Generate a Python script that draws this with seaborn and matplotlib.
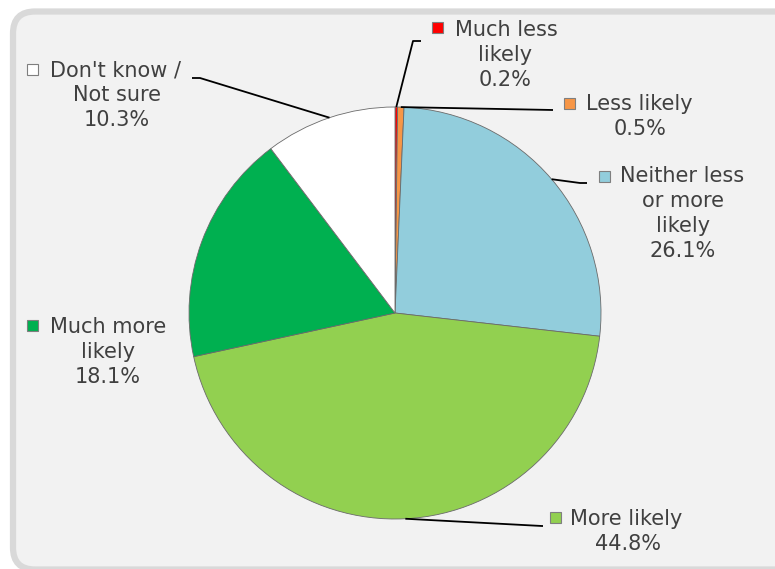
import matplotlib
matplotlib.use("Agg")
import matplotlib.pyplot as plt
from matplotlib.patches import FancyBboxPatch, Rectangle
from matplotlib.transforms import IdentityTransform
import numpy as np
import seaborn as sns

# Survey responses, clockwise from 12 o'clock
categories = ["Much less likely", "Less likely", "Neither less or more likely",
              "More likely", "Much more likely", "Don't know / Not sure"]
shares = [0.2, 0.5, 26.1, 44.8, 18.1, 10.3]
label_lines = [["Much less", "likely"],
               ["Less likely"],
               ["Neither less", "or more", "likely"],
               ["More likely"],
               ["Much more", "likely"],
               ["Don't know /", "Not sure"]]
colors = ["#ff0000", "#f79646", "#92cddc", "#92d050", "#00b050", "#ffffff"]

sns.set_theme(style="white")
plt.rcParams["font.family"] = ["DejaVu Sans"]

W, H = 775, 569
fig = plt.figure(figsize=(W / 100, H / 100), dpi=100)
ax = fig.add_axes([0, 0, 1, 1])
fig.patch.set_facecolor("white")


def Y(y):
    # flip from top-down pixel rows to axis units
    return H - y


# rounded chart-area frame in figure pixels (runs off the right and bottom edges)
frame = FancyBboxPatch((13, Y(569.5)), 792, 558,
                       boxstyle="round,pad=0,rounding_size=22",
                       facecolor="#f2f2f2", edgecolor="#d9d9d9", linewidth=4.5,
                       transform=IdentityTransform(), zorder=-5)
fig.patches.append(frame)
ax.patch.set_visible(False)

cx, cy, r = 395, 313, 206
ax.pie(shares, colors=colors, startangle=90, counterclock=False,
       center=(cx, Y(cy)), radius=r,
       wedgeprops=dict(edgecolor="#6a6a6a", linewidth=0.6), frame=True)
ax.set_xlim(0, W)
ax.set_ylim(0, H)
ax.set_aspect("equal")
ax.axis("off")

# mid angle of each wedge (degrees, standard orientation)
cum = np.cumsum([0] + shares)
mid = 90 - 360 * (cum[:-1] + np.array(shares) / 2) / 100.0


def edge_point(i):
    a = np.deg2rad(mid[i])
    return cx + r * np.cos(a), cy - r * np.sin(a)


# leader line routes (pixel rows, from the wedge edge outward)
leaders = {
    0: [(413, 41), (421, 41)],
    1: [(553, 110)],
    2: [(580, 183), (587, 183)],
    3: [(542, 526), (543, 526)],
    5: [(200, 78), (192, 78)],
}
for i, pts in leaders.items():
    x0, y0 = edge_point(i)
    xs = [x0] + [p[0] for p in pts]
    ys = [Y(y0)] + [Y(p[1]) for p in pts]
    ax.plot(xs, ys, color="black", linewidth=1.3, solid_capstyle="butt", zorder=3)

# label block layout: marker centre, first-line left x, centre x of lower lines, first-line y
layout = [
    ((437.5, 27.5), 455, 505, 30),
    ((569, 103), 586, 640, 104),
    ((604, 176), 620, 683, 176),
    ((555.5, 517), 570, 628, 519),
    ((32.5, 325.5), 50, 108, 327),
    ((32.5, 69.5), 50, 117, 70),
]
txt_color = "#404040"
fs = 15
step = 25
for i, (mk, lx, ccx, y1) in enumerate(layout):
    ax.add_patch(Rectangle((mk[0] - 5.5, Y(mk[1]) - 5.5), 11, 11,
                           facecolor=colors[i], edgecolor="#7f7f7f",
                           linewidth=0.8, zorder=4))
    lines = label_lines[i] + [f"{shares[i]:.1f}%"]
    ax.text(lx, Y(y1), lines[0], ha="left", va="center", fontsize=fs,
            color=txt_color, zorder=5)
    for k, line in enumerate(lines[1:], start=1):
        ax.text(ccx, Y(y1 + k * step), line, ha="center", va="center",
                fontsize=fs, color=txt_color, zorder=5)

fig.savefig("out.png", dpi=100, facecolor="white")
